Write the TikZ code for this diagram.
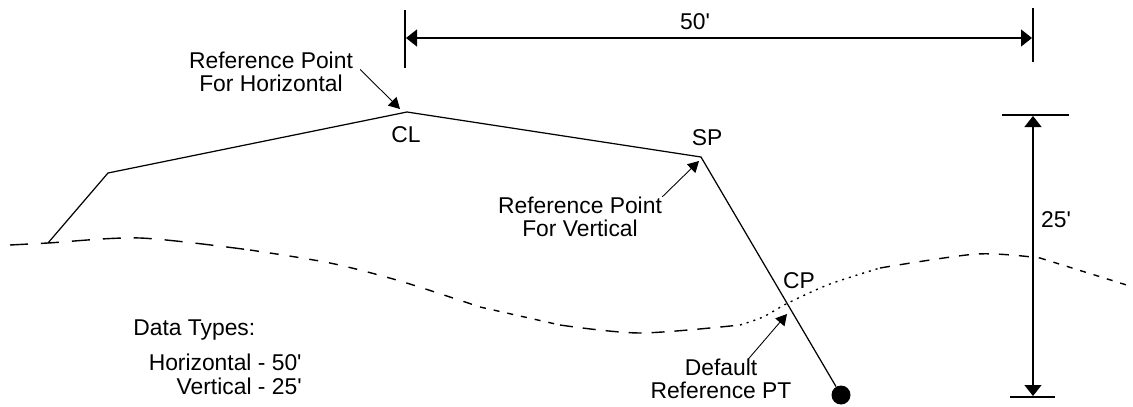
\documentclass[tikz,border=0pt]{standalone}
\usepackage{fontspec}
\setmainfont{Liberation Sans}
\usetikzlibrary{arrows.meta}
\tikzset{
  lbl/.style={font=\fontsize{13}{13}\selectfont, inner sep=0pt},
  ptr/.style={-{Triangle[length=0.22cm,width=0.24cm]}, line width=0.5pt},
  dimline/.style={{Triangle[length=0.22cm,width=0.34cm]}-{Triangle[length=0.22cm,width=0.34cm]}, line width=0.8pt},
  road/.style={line width=0.7pt},
  ground/.style={line width=0.8pt}
}
\begin{document}
\begin{tikzpicture}[x=0.02cm, y=-0.02cm]
    \useasboundingbox (0,0) rectangle (1133,406);

    % road section
    \coordinate (toe) at (48,243);
    \coordinate (shld) at (108,173);
    \coordinate (cl) at (407,112);
    \coordinate (sp) at (701,157);
    \node[circle, fill, inner sep=0pt, minimum size=0.38cm] (dot) at (841,395) {};
    \draw[road] (toe) -- (shld) -- (cl) -- (sp) -- (dot);

    % ground line
    \draw[ground, dash pattern=on 3.6mm off 2.6mm] plot[smooth] coordinates {(10,245) (48,243) (140,238) (250,250)};
    \draw[ground, dash pattern=on 1.8mm off 2.2mm] plot[smooth] coordinates {(250,250) (330,263) (400,281) (480,307)};
    \draw[ground, dash pattern=on 1.2mm off 1.6mm] plot[smooth] coordinates {(480,307) (560,325)};
    \draw[ground, dash pattern=on 2.6mm off 2mm] plot[smooth] coordinates {(560,325) (640,333) (740,325)};
    \draw[ground, dash pattern=on 0.4mm off 1mm] plot[smooth] coordinates {(740,325) (763,317) (788,303) (830,284) (880,268)};
    \draw[ground, dash pattern=on 2mm off 2mm] plot[smooth] coordinates {(880,268) (977,254) (1040,258)};
    \draw[ground, dash pattern=on 1.2mm off 1.6mm] plot[smooth] coordinates {(1040,258) (1133,287)};

    % horizontal dimension
    \draw[line width=0.8pt] (405,10) -- (405,68);
    \draw[line width=0.8pt] (1033,8) -- (1033,62);
    \coordinate (hl) at (406,38);
    \coordinate (hr) at (1032,38);
    \draw[dimline] (hl) -- (hr);
    \node[lbl] (hdim) at (695,22) {50\textquotesingle};

    % vertical dimension
    \draw[line width=0.8pt] (1002,115) -- (1069,115);
    \draw[line width=0.8pt] (1010,397) -- (1055,397);
    \coordinate (vt) at (1033,116);
    \coordinate (vb) at (1033,396);
    \draw[dimline] (vt) -- (vb);
    \node[lbl] (vdim) at (1056,220) {25\textquotesingle};

    \node[lbl] (cltxt) at (406,135) {CL};
    \node[lbl] (sptxt) at (707,138) {SP};
    \node[lbl] (cptxt) at (799,281) {CP};

    \node[lbl, align=center] (refh) at (271,72) {Reference Point\\For Horizontal};
    \node[lbl, align=center] (refv) at (580,217) {Reference Point\\For Vertical};
    \node[lbl, align=center] (dflt) at (721,379) {Default\\Reference PT};

    \coordinate (clpt) at (400,109);
    \coordinate (sppt) at (699,161);
    \coordinate (cppt) at (787,314);
    \draw[ptr] ([xshift=0.14cm,yshift=0.05cm]refh.east) -- (clpt);
    \draw[ptr] (refv.north east) -- (sppt);
    \draw[ptr] ([xshift=0.55cm]dflt.north) -- (cppt);

    \node[lbl, anchor=west] (dtype) at (133,330) {Data Types:};
    \node[lbl, anchor=east] (dhor) at (302,362) {Horizontal - 50\textquotesingle};
    \node[lbl, anchor=east] (dver) at (302,386) {Vertical - 25\textquotesingle};
\end{tikzpicture}
\end{document}
